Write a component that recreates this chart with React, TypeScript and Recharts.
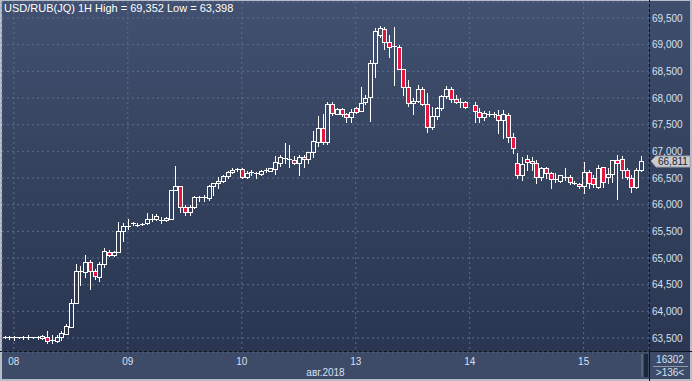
import React from 'react'
import { ComposedChart, Bar, XAxis, YAxis, CartesianGrid, ReferenceLine } from 'recharts'

// hourly candles, slot 98 has no print
const opens = [
  63513, 63515, 63520, 63513, 63518, 63525, 63515, 63520, 63506, 63519,
  63437, 63444, 63513, 63581, 63712, 64151, 64745, 64743, 64919, 64751,
  64649, 64888, 65118, 65056, 65107, 65500, 65590, 65645, 65620, 65625,
  65650, 65735, 65738, 65715, 65712, 65738, 66269, 66344, 65951, 65857,
  65951, 66135, 66140, 66125, 66350, 66400, 66444, 66538, 66607, 66665,
  66669, 66525, 66600, 66590, 66575, 66645, 66637, 66675, 66787, 66870,
  66855, 66831, 66775, 66900, 66856, 66982, 67181, 67432, 67181, 67882,
  67706, 67788, 67694, 67638, 67806, 67763, 67931, 68025, 68651, 69181,
  69288, 69056, 68980, 68951, 68538, 68201, 67901, 67944, 68165, 67882,
  67447, 67668, 67807, 68043, 68165, 67978, 67920, 67919, null, 67862,
  67732, 67649, 67690, 67705, 67681, 67588, 67681, 67275, 66775, 66556,
  66856, 66812, 66775, 66525, 66682, 66588, 66478, 66444, 66522, 66525,
  66402, 66394, 66344, 66619, 66506, 66337, 66700, 66525, 66569, 66838,
  66850, 66650, 66506, 66337, 66650,
]
const highs = [
  63530, 63537, 63545, 63525, 63545, 63550, 63525, 63530, 63562, 63626,
  63551, 63562, 63626, 63757, 64231, 64888, 64850, 65056, 64963, 64799,
  64931, 65188, 65150, 65131, 65675, 65650, 65725, 65675, 65656, 65662,
  65850, 65819, 65819, 65762, 65775, 66269, 66725, 66344, 65994, 65994,
  66162, 66168, 66181, 66369, 66400, 66513, 66556, 66626, 66694, 66694,
  66694, 66631, 66650, 66618, 66650, 66682, 66688, 66912, 66931, 67162,
  67119, 66912, 66931, 66931, 66982, 67381, 67663, 67700, 67931, 67931,
  67819, 67819, 67713, 67788, 67825, 68200, 68056, 68712, 69306, 69352,
  69340, 69181, 69337, 68994, 68538, 68338, 67994, 68244, 68212, 68094,
  67831, 67831, 68056, 68228, 68197, 68056, 67994, 67947, null, 67931,
  67807, 67756, 67756, 67744, 67775, 67775, 67713, 67338, 66963, 66900,
  66931, 66900, 66831, 66713, 66713, 66619, 66588, 66556, 66682, 66556,
  66444, 66412, 66806, 66650, 66556, 66744, 66713, 66694, 66838, 66931,
  66919, 66694, 66556, 66682, 66919,
]
const lows = [
  63500, 63487, 63470, 63500, 63490, 63490, 63505, 63490, 63487, 63398,
  63400, 63431, 63462, 63575, 63712, 64151, 64499, 64638, 64424, 64601,
  64576, 64826, 65038, 65038, 65107, 65324, 65538, 65612, 65603, 65612,
  65631, 65694, 65712, 65650, 65694, 65738, 66269, 65857, 65806, 65806,
  65938, 66074, 66069, 66088, 66181, 66318, 66431, 66494, 66588, 66631,
  66506, 66506, 66556, 66494, 66556, 66618, 66631, 66569, 66719, 66775,
  66700, 66762, 66562, 66700, 66788, 66900, 67106, 67138, 67138, 67681,
  67694, 67662, 67557, 67557, 67713, 67763, 67888, 67574, 68399, 69150,
  68913, 68774, 68244, 68538, 68056, 67859, 67709, 67931, 67869, 67368,
  67425, 67607, 67784, 68000, 67925, 67900, 67831, 67807, null, 67550,
  67549, 67587, 67662, 67649, 67338, 67244, 67181, 66963, 66494, 66463,
  66650, 66650, 66406, 66463, 66494, 66318, 66419, 66431, 66463, 66394,
  66381, 66319, 66213, 66319, 66337, 66318, 66337, 66400, 66431, 66106,
  66494, 66481, 66238, 66318, 66631,
]
const closes = [
  63515, 63513, 63518, 63515, 63520, 63527, 63513, 63518, 63543, 63444,
  63462, 63519, 63588, 63725, 64151, 64751, 64755, 64919, 64751, 64657,
  64888, 65131, 65056, 65113, 65500, 65594, 65600, 65650, 65615, 65630,
  65738, 65740, 65787, 65710, 65756, 66269, 66344, 65951, 65857, 65951,
  66138, 66140, 66135, 66350, 66400, 66444, 66538, 66607, 66650, 66670,
  66525, 66600, 66605, 66585, 66637, 66650, 66682, 66794, 66900, 66880,
  66848, 66775, 66900, 66856, 66982, 67194, 67432, 67181, 67882, 67713,
  67794, 67694, 67638, 67732, 67732, 67900, 67994, 68651, 69256, 69306,
  69056, 68951, 68970, 68538, 68201, 67901, 67944, 68165, 67882, 67447,
  67668, 67807, 68043, 68165, 67978, 67919, 67915, 67822, null, 67750,
  67649, 67713, 67695, 67708, 67588, 67694, 67275, 67057, 66556, 66757,
  66806, 66775, 66525, 66694, 66588, 66475, 66472, 66556, 66528, 66419,
  66398, 66344, 66607, 66400, 66382, 66682, 66419, 66569, 66838, 66775,
  66650, 66525, 66337, 66650, 66811,
]

const dayTicks = [2, 26, 50, 74, 98, 122]
const dayLabels = ['08', '09', '10', '13', '14', '15']
const priceTicks = [63500, 64000, 64500, 65000, 65500, 66000, 66500, 67000, 67500, 68000, 68500, 69000, 69500]
const lastPrice = 66811

const data = opens.map((o, i) => ({
  i,
  open: o,
  high: highs[i],
  low: lows[i],
  close: closes[i],
}))

const FONT = '"Liberation Sans", Arial, sans-serif'
const LABEL = '#d6e0f0'

function Candle(props: any) {
  const { x, y, width, height, payload } = props
  if (!payload || payload.open == null) return null
  const top = Math.min(y, y + height)
  const h = Math.abs(height)
  const span = payload.high - payload.low
  const yOf = (v: number) => (span > 0 ? top + ((payload.high - v) / span) * h : top)
  const x0 = Math.round(x + width / 2 - 2)
  const wx = x0 + 2.5
  const yo = Math.round(yOf(payload.open))
  const yc = Math.round(yOf(payload.close))
  const bTop = Math.min(yo, yc)
  const bBot = Math.max(yo, yc)
  const yHi = Math.round(top)
  const yLo = Math.round(top + h) + 1
  const up = payload.close >= payload.open
  if (bBot - bTop < 2) {
    return (
      <g>
        <line x1={wx} x2={wx} y1={yHi} y2={yLo} stroke="#ffffff" strokeWidth={1} />
        <line x1={x0} x2={x0 + 5} y1={bTop + 0.5} y2={bTop + 0.5} stroke="#ffffff" strokeWidth={1} />
      </g>
    )
  }
  return (
    <g>
      {yHi < bTop && <line x1={wx} x2={wx} y1={yHi} y2={bTop} stroke="#ffffff" strokeWidth={1} />}
      {yLo > bBot + 1 && <line x1={wx} x2={wx} y1={bBot + 1} y2={yLo} stroke="#ffffff" strokeWidth={1} />}
      <rect
        x={x0 + 0.5}
        y={bTop + 0.5}
        width={4}
        height={bBot - bTop}
        fill={up ? 'none' : '#e2163f'}
        stroke="#ffffff"
        strokeWidth={1}
      />
    </g>
  )
}

function DayTick(props: any) {
  const { x, payload } = props
  const idx = dayTicks.indexOf(payload.value)
  return (
    <text x={x} y={361} textAnchor="middle" dominantBaseline="central" fill={LABEL} fontSize={10} fontFamily={FONT}>
      {dayLabels[idx] ?? ''}
    </text>
  )
}

function PriceTick(props: any) {
  const { y, payload } = props
  return (
    <text x={652} y={y} dominantBaseline="central" fill={LABEL} fontSize={10} fontFamily={FONT}>
      {payload.value.toLocaleString('en-US')}
    </text>
  )
}

function LastPriceLabel(props: any) {
  const y = Math.round(props.viewBox.y)
  return (
    <g>
      <polygon
        points={`651,${y} 656,${y - 5} 690,${y - 5} 690,${y + 6} 656,${y + 6}`}
        fill="#c9cbcf"
        stroke="#9ea3ab"
        strokeWidth={1}
      />
      <text x={658} y={y + 0.5} dominantBaseline="central" fill="#1b2436" fontSize={10} fontFamily={FONT}>
        {lastPrice.toLocaleString('en-US')}
      </text>
    </g>
  )
}

export default function App() {
  return (
    <div style={{ position: 'fixed', left: 0, top: 0, width: 692, height: 381, background: '#b7bec9', overflow: 'hidden' }}>
      <div style={{ position: 'absolute', left: 2, top: 1, width: 647, height: 350, background: 'linear-gradient(#425171, #35435f 45%, #2a3651)' }} />
      <div style={{ position: 'absolute', left: 650, top: 1, width: 40, height: 350, background: 'linear-gradient(#3f4e6d, #34425f 45%, #2b3752)' }} />
      <div style={{ position: 'absolute', left: 2, top: 352, width: 688, height: 27, background: '#3d4b68' }} />
      <div style={{ position: 'absolute', left: 0, top: 351, width: 692, height: 1, background: '#0d1320' }} />
      <div style={{ position: 'absolute', left: 649, top: 0, width: 1, height: 381, background: '#0d1320' }} />
      <div style={{ position: 'absolute', left: 641, top: 354, width: 2, height: 23, background: '#56637c' }} />
      <div style={{ position: 'absolute', left: 644, top: 354, width: 4, height: 23, background: '#1e283b' }} />

      <ComposedChart
        width={692}
        height={381}
        data={data}
        margin={{ top: 2, right: 0, bottom: 0, left: 2 }}
        barCategoryGap={0}
        style={{ position: 'absolute', left: 0, top: 0 }}
      >
        <CartesianGrid stroke="#5e6e8d" strokeDasharray="2 3" />
        <XAxis
          dataKey="i"
          type="category"
          ticks={dayTicks}
          interval={0}
          height={29}
          axisLine={false}
          tickLine={false}
          tick={<DayTick />}
          padding={{ left: 0, right: 6 }}
        />
        <YAxis
          orientation="right"
          domain={[63237.5, 69800]}
          ticks={priceTicks}
          allowDataOverflow
          width={43}
          axisLine={false}
          tickLine={false}
          tick={<PriceTick />}
        />
        <ReferenceLine y={lastPrice} stroke="none" label={<LastPriceLabel />} />
        <Bar
          dataKey={(d: any) => (d.open == null ? null : [d.low, d.high])}
          shape={<Candle />}
          isAnimationActive={false}
        />
      </ComposedChart>

      <div style={{ position: 'absolute', left: 4, top: 2, color: '#ffffff', fontSize: 11, fontFamily: FONT, whiteSpace: 'nowrap', lineHeight: '13px' }}>
        USD/RUB(JQ) 1H High = 69,352 Low = 63,398
      </div>
      <div style={{ position: 'absolute', left: 0, width: 651, top: 367, textAlign: 'center', color: LABEL, fontSize: 10, fontFamily: FONT, lineHeight: '12px' }}>
        авг.2018
      </div>
      <div style={{ position: 'absolute', left: 651, width: 38, top: 354, textAlign: 'center', color: LABEL, fontSize: 10, fontFamily: FONT, lineHeight: '12px' }}>
        16302
      </div>
      <div style={{ position: 'absolute', left: 653, top: 366, width: 35, height: 1, background: '#8d98ab' }} />
      <div style={{ position: 'absolute', left: 651, width: 38, top: 367, textAlign: 'center', color: LABEL, fontSize: 10, fontFamily: FONT, lineHeight: '12px' }}>
        {'>136<'}
      </div>
    </div>
  )
}
